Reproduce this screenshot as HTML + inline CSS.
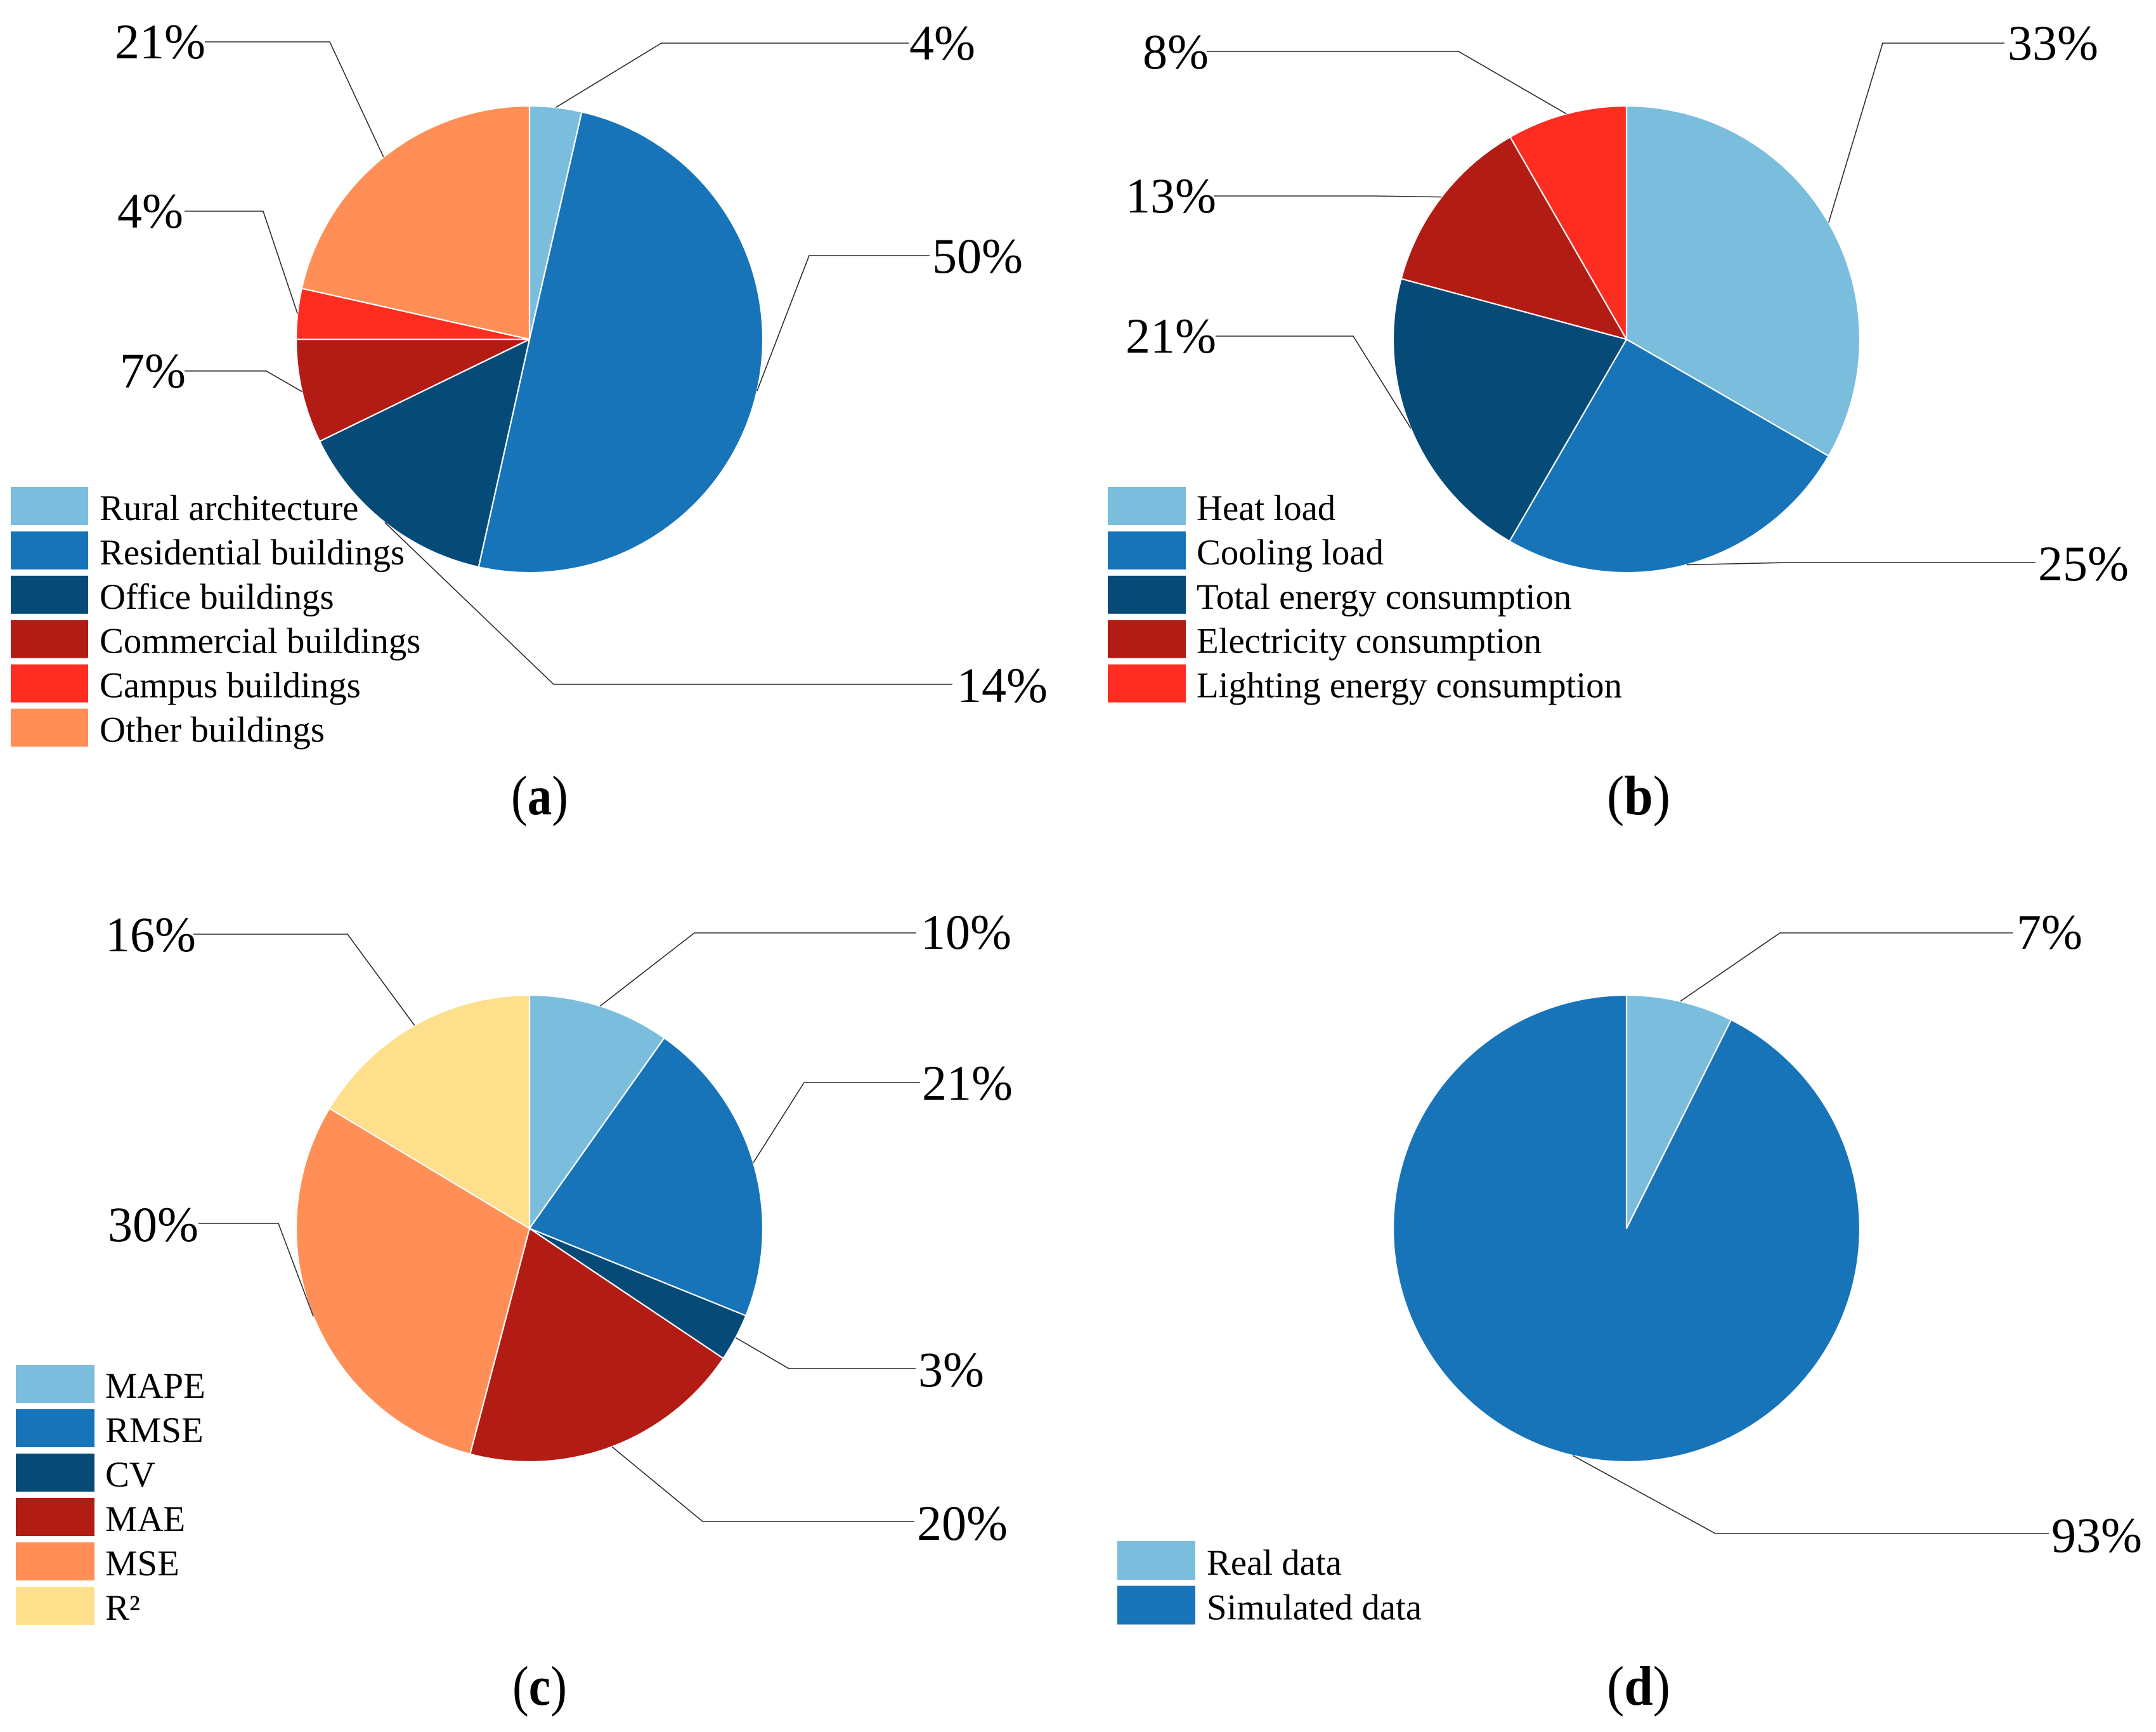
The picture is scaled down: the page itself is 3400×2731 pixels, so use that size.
<!DOCTYPE html>
<html lang="en">
<head>
<meta charset="utf-8">
<title>Pie charts of building types, predicted loads, metrics and data sources</title>
<style>
  html, body { margin: 0; padding: 0; background: #ffffff; }
  svg { display: block; }
  text { font-family: "Liberation Serif", serif; fill: #000000; }
  .pct { font-size: 78px; }
  .leg { font-size: 56.8px; }
  .cap { font-size: 88px; text-anchor: middle; }
  .cap-letter { font-weight: bold; }
</style>
</head>
<body>
<svg id="figure" xmlns="http://www.w3.org/2000/svg" width="3400" height="2731" viewBox="0 0 3400 2731">
  <rect x="0" y="0" width="3400" height="2731" fill="#ffffff"></rect>
</svg>
<script>
// ---------- chart data ----------
const buildingCategories = ["Rural architecture", "Residential buildings", "Office buildings", "Commercial buildings", "Campus buildings", "Other buildings"];
const buildingValues = [3.6, 49.9, 14.3, 7.2, 3.5, 21.5];
const buildingPrinted = ["4%", "50%", "14%", "7%", "4%", "21%"];

const loadCategories = ["Heat load", "Cooling load", "Total energy consumption", "Electricity consumption", "Lighting energy consumption"];
const loadValues = [33.3, 25, 20.8, 12.5, 8.3];
const loadPrinted = ["33%", "25%", "21%", "13%", "8%"];

const metricCategories = ["MAPE", "RMSE", "CV", "MAE", "MSE", "R²"];
const metricValues = [9.8, 21.3, 3.3, 19.7, 29.5, 16.4];
const metricPrinted = ["10%", "21%", "3%", "20%", "30%", "16%"];

const sourceCategories = ["Real data", "Simulated data"];
const sourceValues = [7.4, 92.6];
const sourcePrinted = ["7%", "93%"];

// ---------- colours ----------
const paletteBuilding = ["#7bbddd", "#1874b8", "#064a78", "#b21c14", "#fe2d22", "#ff8f56"];
const paletteLoad = ["#7bbddd", "#1874b8", "#064a78", "#b21c14", "#fe2d22"];
const paletteMetric = ["#7bbddd", "#1874b8", "#064a78", "#b21c14", "#ff8f56", "#fedf8b"];
const paletteSource = ["#7bbddd", "#1874b8"];

// ---------- layout (callout routing and panel frames, separate from the data) ----------
const panels = [
  { id: "a", caption: "a", categories: buildingCategories, values: buildingValues, printed: buildingPrinted, colors: paletteBuilding,
    cx: 835, cy: 535, r: 368, capX: 851, capY: 1284, capW: 90,
    swatchX: 17, swatchW: 122, swatchY: 768, swatchH: 60, pitch: 69.9, textX: 157, textDy: 52,
    callouts: [
      { elbowX: 1043, elbowY: 68, endX: 1433, labelX: 1434, labelY: 94 },
      { elbowX: 1276, elbowY: 403, endX: 1466, labelX: 1470, labelY: 430 },
      { elbowX: 873, elbowY: 1079, endX: 1502, labelX: 1509, labelY: 1107 },
      { elbowX: 420, elbowY: 585, endX: 291, labelX: 189, labelY: 611 },
      { elbowX: 415, elbowY: 333, endX: 291, labelX: 185, labelY: 359 },
      { elbowX: 520, elbowY: 66, endX: 323, labelX: 181, labelY: 92 }
    ] },
  { id: "b", caption: "b", categories: loadCategories, values: loadValues, printed: loadPrinted, colors: paletteLoad,
    cx: 2565, cy: 535, r: 368, capX: 2584, capY: 1284, capW: 100,
    swatchX: 1747, swatchW: 123, swatchY: 768, swatchH: 60, pitch: 69.9, textX: 1887, textDy: 52,
    callouts: [
      { elbowX: 2969, elbowY: 68, endX: 3161, labelX: 3166, labelY: 94 },
      { elbowX: 2822, elbowY: 887, endX: 3210, labelX: 3214, labelY: 915 },
      { elbowX: 2134, elbowY: 530, endX: 1917, labelX: 1775, labelY: 556 },
      { elbowX: 2166, elbowY: 309, endX: 1914, labelX: 1775, labelY: 335 },
      { elbowX: 2300, elbowY: 81, endX: 1903, labelX: 1802, labelY: 108 }
    ] },
  { id: "c", caption: "c", categories: metricCategories, values: metricValues, printed: metricPrinted, colors: paletteMetric,
    cx: 835, cy: 1937, r: 368, capX: 851, capY: 2688, capW: 86,
    swatchX: 25, swatchW: 124, swatchY: 2152, swatchH: 60, pitch: 70, textX: 166, textDy: 52,
    callouts: [
      { elbowX: 1095, elbowY: 1471, endX: 1445, labelX: 1452, labelY: 1496 },
      { elbowX: 1268, elbowY: 1707, endX: 1451, labelX: 1454, labelY: 1734 },
      { elbowX: 1244, elbowY: 2158, endX: 1444, labelX: 1448, labelY: 2186 },
      { elbowX: 1108, elbowY: 2399, endX: 1442, labelX: 1446, labelY: 2428 },
      { elbowX: 439, elbowY: 1929, endX: 313, labelX: 170, labelY: 1957 },
      { elbowX: 548, elbowY: 1473, endX: 305, labelX: 166, labelY: 1500 }
    ] },
  { id: "d", caption: "d", categories: sourceCategories, values: sourceValues, printed: sourcePrinted, colors: paletteSource,
    cx: 2565, cy: 1937, r: 368, capX: 2584, capY: 2688, capW: 100,
    swatchX: 1762, swatchW: 123, swatchY: 2430, swatchH: 61, pitch: 70.5, textX: 1903, textDy: 53,
    callouts: [
      { elbowX: 2807, elbowY: 1471, endX: 3174, labelX: 3180, labelY: 1496 },
      { elbowX: 2705, elbowY: 2418, endX: 3231, labelX: 3235, labelY: 2447 }
    ] }
];

// ---------- drawing ----------
const SVG_NS = "http://www.w3.org/2000/svg";
const figure = document.getElementById("figure");

function make(tag, parent, attrs) {
  const el = document.createElementNS(SVG_NS, tag);
  Object.keys(attrs).forEach(function (k) { el.setAttribute(k, attrs[k]); });
  parent.appendChild(el);
  return el;
}

// Axis function: cumulative value -> clockwise angle from 12 o'clock
function angleScale(values) {
  const total = values.reduce(function (s, v) { return s + v; }, 0);
  return function (cumulative) { return cumulative / total * 2 * Math.PI; };
}

function polar(p, radius, angle) {
  return { x: p.cx + radius * Math.sin(angle), y: p.cy - radius * Math.cos(angle) };
}

function slug(s) {
  return s.toLowerCase().replace(/[^a-z0-9]+/g, "-").replace(/^-|-$/g, "");
}

panels.forEach(function (p) {
  const group = make("g", figure, {});
  
  

  const toAngle = angleScale(p.values);
  let running = 0;

  p.values.forEach(function (value, i) {
    const a0 = toAngle(running);
    const a1 = toAngle(running + value);
    running += value;
    const start = polar(p, p.r, a0);
    const end = polar(p, p.r, a1);
    const large = (a1 - a0) > Math.PI ? 1 : 0;
    const d = "M" + p.cx + " " + p.cy + " L" + start.x + " " + start.y +
      " A" + p.r + " " + p.r + " 0 " + large + " 1 " + end.x + " " + end.y + " Z";
    const slice = make("path", group, { d: d, fill: p.colors[i], stroke: "#ffffff", "stroke-width": 2.2, "stroke-linejoin": "round" });
    
    
  });

  running = 0;
  p.values.forEach(function (value, i) {
    const mid = toAngle(running + value / 2);
    running += value;
    const anchor = polar(p, p.r, mid);
    const c = p.callouts[i];
    const line = make("polyline", group, {
      points: anchor.x + "," + anchor.y + " " + c.elbowX + "," + c.elbowY + " " + c.endX + "," + c.elbowY,
      fill: "none", stroke: "#2b2b2b", "stroke-width": 1.6
    });
    
    

    const label = make("text", group, { x: c.labelX, y: c.labelY, "class": "pct" });
    label.textContent = p.printed[i];
    
    
  });

  const legend = make("g", group, {});
  
  

  p.categories.forEach(function (cat, i) {
    const rowY = p.swatchY + i * p.pitch;
    const swatch = make("rect", legend, { x: p.swatchX, y: rowY, width: p.swatchW, height: p.swatchH, fill: p.colors[i] });
    
    

    const entry = make("text", legend, { x: p.textX, y: rowY + p.textDy, "class": "leg" });
    entry.textContent = cat;
    
    
  });

  const caption = make("text", group, { x: p.capX, y: p.capY, "class": "cap", textLength: p.capW, lengthAdjust: "spacingAndGlyphs" });
  
  
  caption.appendChild(document.createTextNode("("));
  const letter = make("tspan", caption, { "class": "cap-letter" });
  letter.textContent = p.caption;
  caption.appendChild(document.createTextNode(")"));
});
</script>
</body>
</html>
